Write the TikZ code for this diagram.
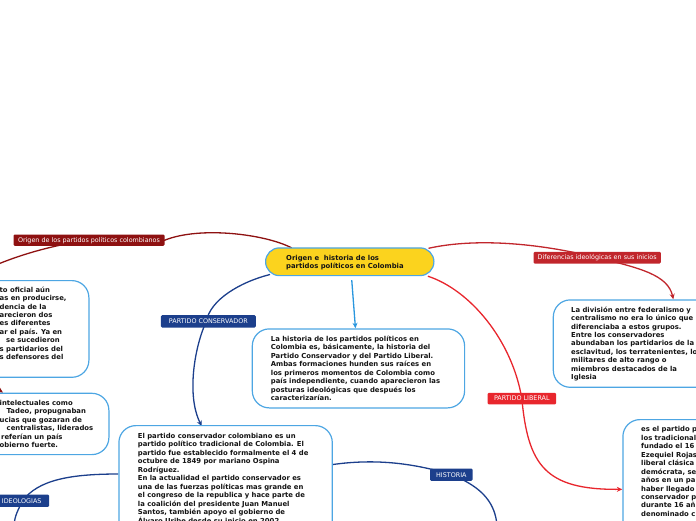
\documentclass[tikz,border=0pt]{standalone}
\usepackage{fontspec}
\setmainfont{DejaVu Sans}
\usetikzlibrary{arrows.meta}
\pgfdeclarelayer{bg}
\pgfsetlayers{bg,main}
\definecolor{boxblue}{HTML}{4DA6E3}
\definecolor{arrowblue}{HTML}{2996DE}
\definecolor{rootyellow}{HTML}{FBD31E}
\definecolor{darkred}{HTML}{8E1111}
\definecolor{navy}{HTML}{1C3F8C}
\definecolor{crimson}{HTML}{C1262C}
\definecolor{libred}{HTML}{E8262D}
\begin{document}
\begin{tikzpicture}[x=1pt,y=-1pt,
  box/.style={draw=boxblue, line width=1.2pt, rounded corners=17pt, fill=white, inner sep=0pt, anchor=north west},
  body/.style={font=\bfseries\fontsize{6.85}{8.45}\selectfont, align=left, inner sep=0pt, anchor=north west, text=black!92},
  tag/.style={font=\fontsize{6.4}{7}\selectfont, text=white, inner sep=0pt, anchor=north west, rounded corners=1.2pt},
  link/.style={line width=1.3pt},
  arrowend/.style={-{Stealth[length=5.5pt,width=5pt]}}
]
\useasboundingbox (0,0) rectangle (696,520);

% boxes
\node[draw=boxblue, fill=rootyellow, line width=1.2pt, rounded corners=13.8pt, minimum width=168.3pt, minimum height=27.7pt, anchor=north west, inner sep=0pt] (root) at (265,247.3) {};
\node[body] (roott) at (286,254.6) {Origen e\ \ historia de los\\partidos políticos en Colombia};

\node[box, minimum width=212.3pt, minimum height=79pt] (mid) at (251.7,328.3) {};
\node[body] (midt) at (270.7,335.8) {La historia de los partidos políticos en\\
Colombia es, básicamente, la historia del\\
Partido Conservador y del Partido Liberal.\\
Ambas formaciones hunden sus raíces en\\
los primeros momentos de Colombia como\\
país independiente, cuando aparecieron las\\
posturas ideológicas que después los\\
caracterizarían.};

\node[box, minimum width=213.4pt, minimum height=140pt] (cons) at (118.3,425) {};
\node[body] (const) at (137.7,433.1) {El partido conservador colombiano es un\\
partido político tradicional de Colombia. El\\
partido fue establecido formalmente el 4 de\\
octubre de 1849 por mariano Ospina\\
Rodríguez.\\
En la actualidad el partido conservador es\\
una de las fuerzas políticas mas grande en\\
el congreso de la republica y hace parte de\\
la coalición del presidente Juan Manuel\\
Santos, también apoyo el gobierno de\\
Álvaro Uribe desde su inicio en 2002.};

\node[box, minimum width=220pt, minimum height=96.7pt] (ltop) at (-131.7,280) {};
\node[body] (ltopt) at (-0.5,286.5) {to oficial aún\\
as en producirse,\\
dencia de la\\
arecieron dos\\
es diferentes\\
ar el país. Ya en\\
\hspace*{6.5pt}se sucedieron\\
s partidarios del\\
s defensores del};

\node[box, minimum width=240pt, minimum height=61.3pt] (llow) at (-131.7,392.7) {};
\node[body] (llowt) at (-0.5,399.8) {intelectuales como\\
\hspace*{7pt}Tadeo, propugnaban\\
ucias que gozaran de\\
\hspace*{7pt}centralistas, liderados\\
\hspace*{1.5pt}referían un país\\
obierno fuerte.};

\node[box, minimum width=200pt, minimum height=87.4pt] (rup) at (552.7,299.3) {};
\node[body] (rupt) at (571,306.5) {La división entre federalismo y\\
centralismo no era lo único que\\
diferenciaba a estos grupos.\\
Entre los conservadores\\
abundaban los partidarios de la\\
esclavitud, los terratenientes, los\\
militares de alto rango o\\
miembros destacados de la\\
Iglesia};

\node[box, minimum width=200pt, minimum height=140pt] (rlow) at (622.3,419) {};
\node[body] (rlowt) at (641,426.5) {es el partido p\\
los tradicional\\
fundado el 16\\
Ezequiel Rojas\\
liberal clásica\\
demócrata, se\\
años en un pa\\
haber llegado\\
conservador p\\
durante 16 añ\\
denominado c};

% tags
\node[tag, fill=darkred, minimum width=151pt, minimum height=11.4pt] (lab1) at (13.3,234.3) {Origen de los partidos políticos colombianos};
\node[tag, fill=navy, minimum width=95pt, minimum height=12.3pt] (labPC) at (160.7,315) {PARTIDO CONSERVADOR};
\node[tag, fill=navy, minimum width=42.3pt, minimum height=12.4pt] (labH) at (430,468.3) {HISTORIA};
\node[tag, fill=navy, minimum width=55pt, minimum height=12.4pt] (labI) at (-6,494.3) {IDEOLOGIAS};
\node[tag, fill=crimson, minimum width=127.4pt, minimum height=11.6pt] (labD) at (533.3,251.7) {Diferencias ideológicas en sus inicios};
\node[tag, fill=libred, minimum width=68.7pt, minimum height=11.5pt] (labL) at (487.3,392.7) {PARTIDO LIBERAL};

\coordinate (oend) at (3,392.7);

\begin{pgfonlayer}{bg}
% Origen
\draw[link, darkred, arrowend] ([shift={(26.7,0.6)}]root.north west)
  .. controls (265,234) and (200,226) .. (lab1.east) -- (lab1.center)
  .. controls (60,244) and (20,253) .. (-20,272)
  .. controls (-55,300) and (-30,370) .. (oend);
% Partido conservador
\draw[link, navy, arrowend] ([shift={(5,-1.7)}]root.south west)
  .. controls (240,282) and (210,300) .. ([xshift=-2pt]labPC.center)
  .. controls (195,345) and (186,395) .. ([shift={(83.4,1)}]cons.north west);
% middle
\draw[link, arrowblue, arrowend] ([shift={(2,4)}]root.south) -- ([shift={(-3,0)}]mid.north);
% historia
\draw[link, navy] ([shift={(0,39.5)}]cons.north east)
  .. controls (372,459) and (410,462) .. (labH.center)
  .. controls (485,488) and (495,505) .. (497,525);
% ideologias
\draw[link, navy] ([shift={(0,49)}]cons.north west)
  .. controls (70,474) and (38,480) .. ([xshift=1pt]labI.center)
  .. controls (18,510) and (15,515) .. (14,525);
% diferencias
\draw[link, crimson, arrowend] ([shift={(-6,1)}]root.north east)
  .. controls (470,239) and (530,241) .. (labD.center)
  .. controls (640,268) and (668,275) .. ([shift={(120.6,0)}]rup.north west);
% liberal
\draw[link, libred, arrowend] ([shift={(-6.6,0)}]root.south east)
  .. controls (470,290) and (512,340) .. (labL.center)
  .. controls (528,465) and (545,490) .. ([shift={(0,70.3)}]rlow.north west);
\end{pgfonlayer}
\end{tikzpicture}
\end{document}
